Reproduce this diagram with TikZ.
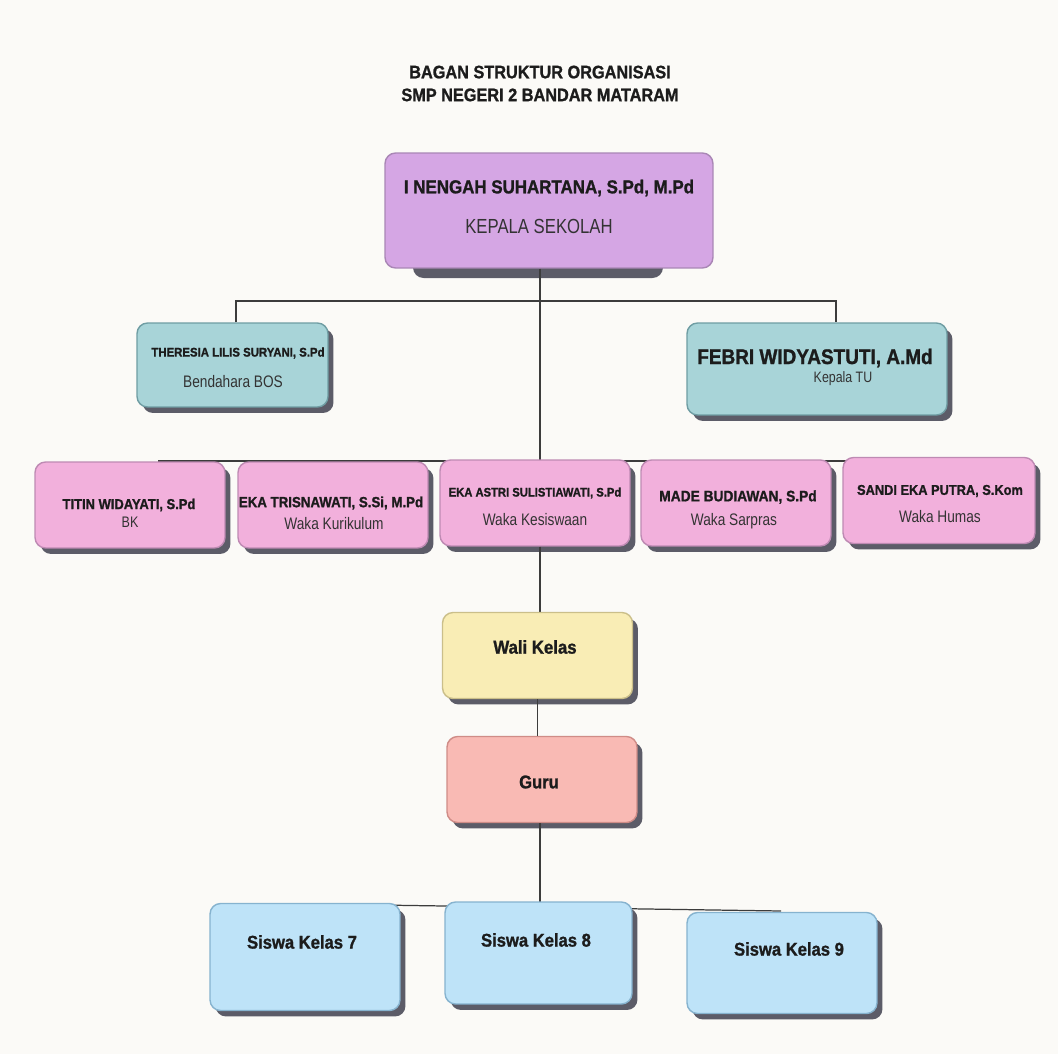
\documentclass[tikz,border=0pt]{standalone}
\usepackage{fontspec}
\setmainfont{Liberation Sans}[FakeStretch=0.82, BoldFeatures={FakeStretch=0.9, FakeBold=1.2}]
\usetikzlibrary{shadows}

\definecolor{paper}{HTML}{FBFAF7}
\definecolor{ink}{HTML}{1C1C1C}
\definecolor{inksoft}{HTML}{333333}
\definecolor{wire}{HTML}{3C3C3C}
\definecolor{dusk}{HTML}{5C5C68}
\definecolor{lilac}{HTML}{D5A6E4}
\definecolor{lilacline}{HTML}{A986B5}
\definecolor{teal}{HTML}{A8D4D8}
\definecolor{tealline}{HTML}{6F9DA3}
\definecolor{rose}{HTML}{F2B0DC}
\definecolor{roseline}{HTML}{BE8AB3}
\definecolor{cream}{HTML}{F9EDB5}
\definecolor{creamline}{HTML}{CBBF8A}
\definecolor{salmon}{HTML}{F9BAB4}
\definecolor{salmonline}{HTML}{CF8C87}
\definecolor{sky}{HTML}{BEE3F8}
\definecolor{skyline}{HTML}{86B3CF}

\begin{document}
\begin{tikzpicture}[x=0.02cm,y=-0.02cm,
  box/.style={rounded corners=6pt, line width=0.8pt, inner sep=0pt,
    drop shadow={shadow xshift=0.11cm, shadow yshift=-0.12cm, fill=dusk, opacity=1}},
  rowbox/.style={box, minimum width=3.8cm, minimum height=1.72cm},
  link/.style={line width=0.7pt, draw=wire},
  who/.style={text=ink, font=\bfseries\fontsize{#1}{#1}\selectfont, inner sep=0pt},
  job/.style={text=inksoft, font=\fontsize{#1}{#1}\selectfont, inner sep=0pt}]
  \fill[paper] (0,0) rectangle (1058,1054);
  \useasboundingbox (0,0) rectangle (1058,1054);

  \node[text=ink, inner sep=0pt, align=center, font=\bfseries\fontsize{10.3}{13}\selectfont] (title) at (540,83.5)
    {BAGAN STRUKTUR ORGANISASI\\SMP NEGERI 2 BANDAR MATARAM};

  % junction points
  \coordinate (spine) at (540,0);
  \coordinate (hl) at (236,301);
  \coordinate (hr) at (836,301);
  \coordinate (r3l) at (158,461);
  \coordinate (r3r) at (928,461);
  \coordinate (sl) at (310,904);
  \coordinate (sr) at (781,911);

  % boxes
  \fill[dusk, rounded corners=6pt] (413,250) rectangle (663,278);
  \node[rounded corners=6pt, line width=0.8pt, inner sep=0pt, fill=lilac, draw=lilacline,
    minimum width=6.56cm, minimum height=2.3cm] (kepsek) at (549,210.5) {};
  \node[box, fill=teal, draw=tealline, minimum width=3.82cm, minimum height=1.68cm] (bos) at (232.5,365) {};
  \node[box, fill=teal, draw=tealline, minimum width=5.2cm, minimum height=1.84cm] (tu) at (817,369) {};

  \draw[link] (kepsek.south -| spine) -- (spine |- 0,613);
  \draw[link] (bos.north -| hl) -- (hl) -- (hr) -- (tu.north -| hr);
  \draw[link] (r3l) -- (r3r);

  \node[rowbox, fill=rose, draw=roseline] (bk) at (130,505) {};
  \node[rowbox, fill=rose, draw=roseline] (kur) at (333,505) {};
  \node[rowbox, fill=rose, draw=roseline] (kes) at (535,503) {};
  \node[rowbox, fill=rose, draw=roseline] (sar) at (736,503) {};
  \node[rowbox, fill=rose, draw=roseline, minimum width=3.84cm] (hum) at (939,500.5) {};

  \draw[link] (kes.south -| spine) -- (spine |- 0,613);
  \node[rowbox, fill=cream, draw=creamline] (wali) at (537.5,655.5) {};
  \node[rowbox, fill=salmon, draw=salmonline] (guru) at (542,779.5) {};
  \draw[link] (wali.south) -- (wali.south |- guru.north);

  \draw[link] (guru.south -| spine) -- (spine |- sl);
  \draw[link] (sl) -- (sr);
  \node[box, fill=sky, draw=skyline, minimum width=3.8cm, minimum height=2.14cm] (s7) at (305,957) {};
  \node[box, fill=sky, draw=skyline, minimum width=3.74cm, minimum height=2.04cm] (s8) at (538.5,953) {};
  \node[box, fill=sky, draw=skyline, minimum width=3.8cm, minimum height=2.02cm] (s9) at (782,963) {};

  % texts
  \node[who=10.7] (kepsek-n) at (549,188) {I NENGAH SUHARTANA, S.Pd, M.Pd};
  \node[job=11.6] (kepsek-r) at (539,226) {KEPALA SEKOLAH};
  \node[who=7.2] (bos-n) at (238,353) {THERESIA LILIS SURYANI, S.Pd};
  \node[job=9.5] (bos-r) at (233,382) {Bendahara BOS};
  \node[who=12] (tu-n) at (815,358) {FEBRI WIDYASTUTI, A.Md};
  \node[job=8.6] (tu-r) at (843,379) {Kepala TU};
  \node[who=8.2] (bk-n) at (129,505) {TITIN WIDAYATI, S.Pd};
  \node[job=8.7] (bk-r) at (130,522) {BK};
  \node[who=8.4] (kur-n) at (331,503) {EKA TRISNAWATI, S.Si, M.Pd};
  \node[job=9.5] (kur-r) at (334,524) {Waka Kurikulum};
  \node[who=7.1] (kes-n) at (535,493) {EKA ASTRI SULISTIAWATI, S.Pd};
  \node[job=9.5] (kes-r) at (535,520) {Waka Kesiswaan};
  \node[who=8.7] (sar-n) at (738,497) {MADE BUDIAWAN, S.Pd};
  \node[job=9.5] (sar-r) at (734,521) {Waka Sarpras};
  \node[who=8.1] (hum-n) at (940,491) {SANDI EKA PUTRA, S.Kom};
  \node[job=9.5] (hum-r) at (940,517) {Waka Humas};
  \node[who=10.6] (wali-n) at (535,647) {Wali Kelas};
  \node[who=10.5] (guru-n) at (539,782) {Guru};
  \node[who=10.5] (s7-n) at (302,942) {Siswa Kelas 7};
  \node[who=10.5] (s8-n) at (536,940) {Siswa Kelas 8};
  \node[who=10.5] (s9-n) at (789,949) {Siswa Kelas 9};
\end{tikzpicture}
\end{document}
